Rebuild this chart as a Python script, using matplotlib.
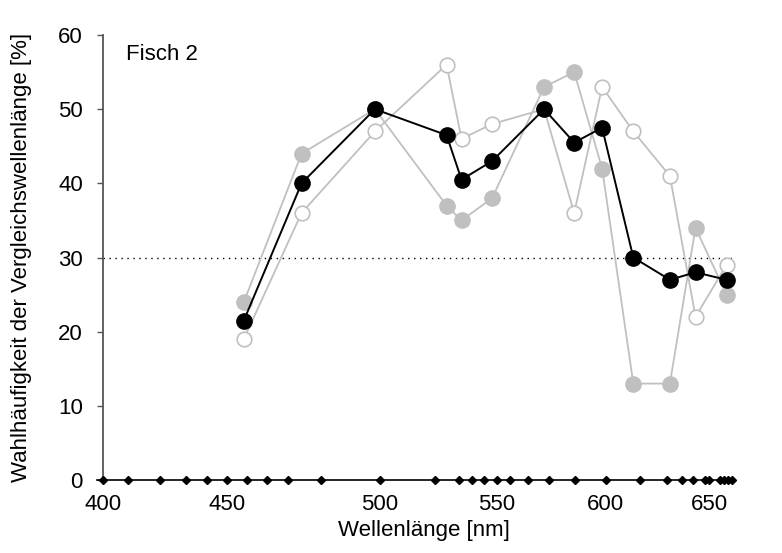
import numpy as np
import matplotlib
matplotlib.use('Agg')
import matplotlib.pyplot as plt

plt.rcParams['font.family'] = ['Liberation Sans', 'DejaVu Sans']
plt.rcParams['font.size'] = 16

# Teststufen (Wellenlänge in nm) und Wahlhäufigkeiten in %
wavelength = [455.5, 474.4, 498.4, 528.6, 535.0, 548.1, 571.8, 585.6, 598.4, 613.4, 631.1, 643.5, 658.5]
mean_choice = [21.5, 40, 50, 46.5, 40.5, 43, 50, 45.5, 47.5, 30, 27, 28, 27]
series_filled = [24, 44, 50, 37, 35, 38, 53, 55, 42, 13, 13, 34, 25]
series_open = [19, 36, 47, 56, 46, 48, 50, 36, 53, 47, 41, 22, 29]
chance_level = 30

tick_nm = [400, 450, 500, 550, 600, 650]
# Markierungen auf der x-Achse
marks_nm = [400, 410.1, 422.9, 433.6, 442.1, 450, 456.5, 463.0, 469.9, 480.9, 500,
            523.7, 534.0, 539.7, 544.7, 550, 556.1, 564.5, 574.0, 585.9, 600,
            616.6, 629.6, 636.8, 642.4, 648.1, 650, 655.5, 657.3, 659.0, 661.2]

# nichtlineare Wellenlängenskala: nm -> Achsenposition
scale_nm = [390, 400, 450, 500, 550, 600, 650, 700]
scale_pos = [78.5, 103.3, 227.3, 380.0, 496.7, 605.7, 709.0, 812.3]


def nm_to_pos(x):
    return np.interp(x, scale_nm, scale_pos)


def pos_to_nm(x):
    return np.interp(x, scale_pos, scale_nm)


fig = plt.figure(figsize=(7.82, 5.53), dpi=100)
ax = fig.add_axes([97 / 782, 73 / 553, 638 / 782, 445 / 553])
ax.set_xscale('function', functions=(nm_to_pos, pos_to_nm))

grey = '#c0c0c0'
ax.axhline(chance_level, xmin=0.01, color='black', lw=1.0, ls=(0, (1, 3.3)), zorder=1)
ax.plot(wavelength, series_open, '-o', color=grey, mfc='white', mec=grey,
        ms=10.5, lw=1.3, mew=1.2, zorder=2)
ax.plot(wavelength, series_filled, '-o', color=grey, ms=11, lw=1.3, zorder=2)
ax.plot(wavelength, mean_choice, '-o', color='black', ms=11, lw=1.4, zorder=3)

ax.plot(marks_nm, np.zeros(len(marks_nm)), linestyle='none', marker='D', ms=3.8,
        color='black', clip_on=False, zorder=5)

ax.set_xlim(397.6, 662.6)
ax.set_ylim(0, 60)
ax.set_xticks(tick_nm)
ax.set_xticks([], minor=True)
ax.set_xticklabels([str(t) for t in tick_nm])
ax.set_yticks(range(0, 61, 10))

ax.spines['top'].set_visible(False)
ax.spines['right'].set_visible(False)
ax.spines['left'].set_position(('data', 400))
ax.spines['left'].set_color('#555555')
ax.spines['left'].set_linewidth(1.3)
ax.spines['bottom'].set_linewidth(1.2)

ax.tick_params(axis='x', length=0, pad=10)
ax.tick_params(axis='y', direction='out', length=4.5, width=1.0, color='#555555', pad=10)

ax.set_xlabel('Wellenlänge [nm]')
ax.xaxis.set_label_coords(0.513, -0.091)
ax.set_ylabel('Wahlhäufigkeit der Vergleichswellenlänge [%]')
ax.yaxis.set_label_coords(-0.102, 0.5)

ax.text(0.0455, 0.944, 'Fisch 2', transform=ax.transAxes, va='baseline', ha='left')

fig.savefig('out.png', dpi=100)
